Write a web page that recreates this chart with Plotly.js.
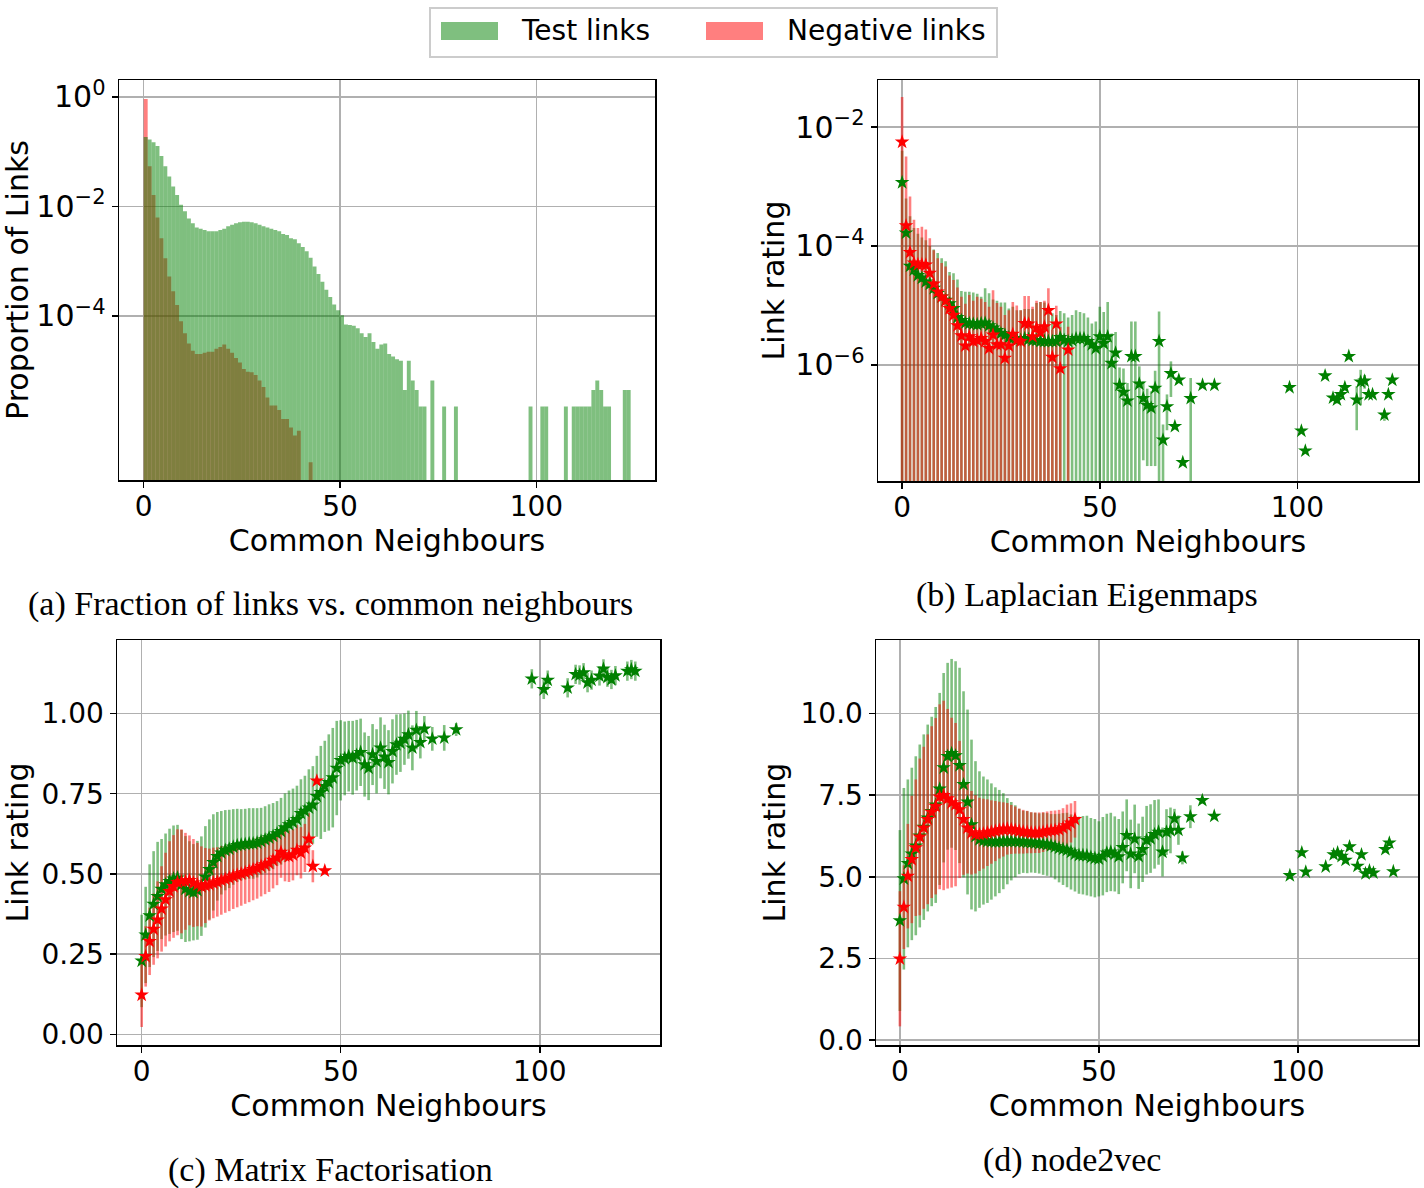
<!DOCTYPE html>
<html>
<head>
<meta charset="utf-8">
<script src="https://cdn.plot.ly/plotly-3.0.1.min.js"></script>
<style>
  html, body { margin: 0; padding: 0; background: white; }
  #chart { width: 1424px; height: 1188px; }
</style>
</head>
<body>
<div id="chart"></div>
<script>
// ---- (a) histogram: proportion of links per number of common neighbours ----
const testBins = [
  0, 1, 2, 3, 4, 5, 6, 7, 8, 9, 10, 11, 12, 13, 14, 15, 16, 17, 18, 19,
  20, 21, 22, 23, 24, 25, 26, 27, 28, 29, 30, 31, 32, 33, 34, 35, 36, 37, 38, 39,
  40, 41, 42, 43, 44, 45, 46, 47, 48, 49, 50, 51, 52, 53, 54, 55, 56, 57, 58, 59,
  60, 61, 62, 63, 64, 65, 66, 67, 68, 69, 70, 71,
  73, 76, 79, 98, 101, 102, 107, 109, 110, 111, 112, 113, 114, 115, 116, 117, 118, 122, 123
];
const testProp = [
  0.185, 0.166, 0.148, 0.126, 0.083, 0.054, 0.035, 0.023, 0.016, 0.0107,
  0.0081, 0.0060, 0.0049, 0.0041, 0.0039, 0.0037, 0.0035, 0.0035, 0.0035, 0.0037,
  0.0039, 0.0043, 0.0046, 0.0049, 0.0051, 0.0052, 0.0052, 0.0051, 0.0049, 0.0046,
  0.0043, 0.0041, 0.0039, 0.0037, 0.0035, 0.0031, 0.0030, 0.0026, 0.0025, 0.0021,
  0.0018, 0.0015, 0.00115, 0.00079, 0.00058, 0.00042, 0.00030, 0.00022, 0.00016, 0.000126,
  0.000102, 6.9e-5, 6.8e-5, 6.6e-5, 5.9e-5, 4.8e-5, 4.1e-5, 4.8e-5, 3.3e-5, 2.5e-5,
  3.0e-5, 3.1e-5, 2.0e-5, 1.8e-5, 1.6e-5, 1.5e-5, 4.4e-6, 1.5e-5, 6.6e-6, 4.4e-6,
  2.2e-6, 2.2e-6,
  6.6e-6, 2.2e-6, 2.2e-6, 2.2e-6, 2.2e-6, 2.2e-6, 2.2e-6, 2.2e-6, 2.2e-6, 2.2e-6,
  2.2e-6, 2.2e-6, 4.4e-6, 6.6e-6, 4.4e-6, 2.2e-6, 2.2e-6, 4.4e-6, 4.4e-6
];
const negBins = [
  0, 1, 2, 3, 4, 5, 6, 7, 8, 9, 10, 11, 12, 13, 14, 15, 16, 17, 18, 19,
  20, 21, 22, 23, 24, 25, 26, 27, 28, 29, 30, 31, 32, 33, 34, 35, 36, 37, 38, 39, 42
];
const negProp = [
  0.91, 0.054, 0.016, 0.0062, 0.0026, 0.00112, 0.00052, 0.00028, 0.000158, 7.9e-5,
  4.8e-5, 3.1e-5, 2.3e-5, 2.0e-5, 2.0e-5, 2.1e-5, 2.2e-5, 2.2e-5, 2.5e-5, 2.7e-5,
  3.0e-5, 2.5e-5, 2.1e-5, 1.7e-5, 1.4e-5, 1.07e-5, 9.5e-6, 9.3e-6, 8.3e-6, 6.6e-6,
  5.0e-6, 3.2e-6, 2.3e-6, 2.3e-6, 1.9e-6, 1.3e-6, 1.3e-6, 9.1e-7, 6.5e-7, 7.9e-7, 2.1e-7
];

// ---- common neighbour counts for the rating panels ----
const testX = [
  0, 1, 2, 3, 4, 5, 6, 7, 8, 9, 10, 11, 12, 13, 14, 15, 16, 17, 18, 19,
  20, 21, 22, 23, 24, 25, 26, 27, 28, 29, 30, 31, 32, 33, 34, 35, 36, 37, 38, 39,
  40, 41, 42, 43, 44, 45, 46, 47, 48, 49, 50, 51, 52, 53, 54, 55, 56, 57, 58, 59,
  60, 61, 62, 63, 64, 65, 66, 67, 68, 69, 70, 71,
  73, 76, 79, 98, 101, 102, 107, 109, 110, 111, 112, 113, 115, 116, 117, 118, 119, 122, 123, 124
];
const negXB = [
  0, 1, 2, 3, 4, 5, 6, 7, 8, 9, 10, 11, 12, 13, 14, 15, 16, 17, 18, 19,
  20, 21, 22, 23, 24, 25, 26, 27, 28, 29, 30, 31, 32, 33, 34, 35, 36, 37, 38, 39, 40, 42
];
const negXC = [
  0, 1, 2, 3, 4, 5, 6, 7, 8, 9, 10, 11, 12, 13, 14, 15, 16, 17, 18, 19,
  20, 21, 22, 23, 24, 25, 26, 27, 28, 29, 30, 31, 32, 33, 34, 35, 36, 37, 38, 39,
  40, 41, 42, 43, 44, 46
];
const negXD = [
  0, 1, 2, 3, 4, 5, 6, 7, 8, 9, 10, 11, 12, 13, 14, 15, 16, 17, 18, 19,
  20, 21, 22, 23, 24, 25, 26, 27, 28, 29, 30, 31, 32, 33, 34, 35, 36, 37, 38, 39,
  40, 41, 42, 43, 44
];

// ---- (b) Laplacian Eigenmaps ----
const testMeanB = [
  1.17e-3, 1.66e-4, 4.6e-5, 4.0e-5, 3.2e-5, 2.9e-5, 2.5e-5, 2.3e-5, 1.95e-5, 1.6e-5,
  1.4e-5, 1.23e-5, 1.07e-5, 8.9e-6, 6.3e-6, 5.6e-6, 5.1e-6, 5.0e-6, 4.9e-6, 4.8e-6,
  5.0e-6, 5.1e-6, 4.6e-6, 4.2e-6, 3.8e-6, 3.4e-6, 3.2e-6, 2.9e-6, 2.8e-6, 2.7e-6,
  2.6e-6, 2.8e-6, 2.7e-6, 2.6e-6, 2.6e-6, 2.5e-6, 2.5e-6, 2.5e-6, 2.5e-6, 2.5e-6,
  2.9e-6, 2.6e-6, 2.5e-6, 2.6e-6, 2.8e-6, 2.8e-6, 2.8e-6, 2.5e-6, 2.2e-6, 1.9e-6,
  3.0e-6, 2.3e-6, 3.0e-6, 1.07e-6, 1.6e-6, 4.6e-7, 3.5e-7, 2.5e-7, 1.4e-6, 1.4e-6,
  4.8e-7, 2.75e-7, 2.1e-7, 1.9e-7, 4.1e-7, 2.5e-6, 5.5e-8, 2.0e-7, 7.2e-7, 9.3e-8,
  5.6e-7, 2.3e-8,
  2.75e-7, 4.6e-7, 4.6e-7, 4.2e-7, 7.8e-8, 3.6e-8, 6.6e-7, 2.8e-7, 2.6e-7, 3.2e-7,
  4.2e-7, 1.4e-6, 2.6e-7, 5.2e-7, 5.4e-7, 3.2e-7, 3.2e-7, 1.45e-7, 3.2e-7, 5.6e-7
];
const testStdB = [
  2.8e-3, 4.6e-4, 2.7e-4, 1.6e-4, 1.28e-4, 1.1e-4, 1.0e-4, 7.7e-5, 6.8e-5, 6.0e-5,
  4.8e-5, 4.3e-5, 2.6e-5, 2.6e-5, 2.1e-5, 1.2e-5, 1.2e-5, 1.2e-5, 1.17e-5, 1.1e-5,
  9.0e-6, 1.44e-5, 1.14e-5, 8.4e-6, 8.2e-6, 7.8e-6, 8.0e-6, 6.0e-6, 6.7e-6, 5.6e-6,
  5.7e-6, 5.9e-6, 6.0e-6, 6.1e-6, 8.4e-6, 9.0e-6, 8.7e-6, 7.0e-6, 4.9e-6, 4.4e-6,
  5.2e-6, 4.8e-6, 3.8e-6, 4.3e-6, 5.5e-6, 5.0e-6, 4.6e-6, 3.8e-6, 2.8e-6, 3.5e-6,
  6.5e-6, 5.5e-6, 8.5e-6, 2.3e-6, 2.0e-6, 4.5e-7, 5.2e-7, 2.5e-7, 4.0e-6, 4.0e-6,
  4.7e-7, 2.5e-7, 1.9e-7, 1.7e-7, 3.9e-7, 5.4e-6, 4.5e-8, 1.2e-7, 4.3e-7, 1.0e-8,
  3.0e-8, 0,
  3.3e-7, 0, 0, 0, 0, 0, 0, 0, 0, 0,
  0, 0, 1.8e-7, 3.1e-7, 1.4e-7, 0, 0, 3.0e-8, 0, 0
];
const negMeanB = [
  5.6e-3, 2.2e-4, 7.8e-5, 5.2e-5, 4.9e-5, 4.9e-5, 4.8e-5, 3.5e-5, 2.3e-5, 1.7e-5,
  1.4e-5, 1.2e-5, 8.9e-6, 6.9e-6, 4.6e-6, 3.1e-6, 2.1e-6, 3.0e-6, 2.5e-6, 2.6e-6,
  2.8e-6, 2.5e-6, 1.9e-6, 3.2e-6, 2.2e-6, 2.2e-6, 1.3e-6, 2.1e-6, 3.3e-6, 2.6e-6,
  2.5e-6, 5.0e-6, 4.9e-6, 3.0e-6, 4.2e-6, 3.5e-6, 4.4e-6, 8.3e-6, 1.35e-6, 4.9e-6,
  8.7e-7, 1.8e-6
];
const negStdB = [
  2.64e-2, 2.98e-3, 6.0e-4, 2.23e-4, 1.51e-4, 1.61e-4, 1.42e-4, 1.0e-4, 6.2e-5, 4.5e-5,
  3.8e-5, 3.3e-5, 2.3e-5, 2.0e-5, 1.54e-5, 1.09e-5, 8.6e-6, 1.2e-5, 9.5e-6, 1.14e-5,
  1.02e-5, 9.0e-6, 7.6e-6, 1.48e-5, 8.8e-6, 7.3e-6, 5.6e-6, 6.2e-6, 8.2e-6, 7.4e-6,
  5.8e-6, 9.5e-6, 9.6e-6, 6.5e-6, 7.8e-6, 8.0e-6, 7.6e-6, 1.12e-5, 2.55e-6, 5.0e-6,
  3.5e-6, 2.6e-6
];

// ---- (c) Matrix Factorisation ----
const testMeanC = [
  0.229, 0.310, 0.370, 0.406, 0.430, 0.453, 0.467, 0.477, 0.485, 0.488,
  0.467, 0.453, 0.446, 0.443, 0.449, 0.462, 0.491, 0.514, 0.536, 0.555,
  0.566, 0.574, 0.578, 0.584, 0.589, 0.591, 0.593, 0.595, 0.595, 0.597,
  0.602, 0.607, 0.613, 0.618, 0.626, 0.633, 0.644, 0.654, 0.661, 0.670,
  0.689, 0.696, 0.706, 0.715, 0.742, 0.754, 0.773, 0.785, 0.800, 0.830,
  0.854, 0.860, 0.867, 0.862, 0.870, 0.879, 0.841, 0.830, 0.872, 0.851,
  0.893, 0.865, 0.848, 0.882, 0.903, 0.908, 0.920, 0.934, 0.893, 0.948,
  0.910, 0.952,
  0.921, 0.924, 0.950, 1.108, 1.075, 1.104, 1.080, 1.122, 1.120, 1.127,
  1.096, 1.104, 1.117, 1.139, 1.113, 1.106, 1.118, 1.132, 1.137, 1.132
];
const testStdC = [
  0.144, 0.15, 0.16, 0.165, 0.17, 0.156, 0.159, 0.164, 0.166, 0.165,
  0.17, 0.165, 0.156, 0.15, 0.154, 0.155, 0.158, 0.156, 0.15, 0.138,
  0.13, 0.125, 0.122, 0.118, 0.114, 0.111, 0.11, 0.11, 0.11, 0.108,
  0.104, 0.104, 0.104, 0.103, 0.101, 0.104, 0.107, 0.106, 0.105, 0.105,
  0.106, 0.11, 0.12, 0.121, 0.126, 0.145, 0.142, 0.15, 0.155, 0.147,
  0.125, 0.115, 0.11, 0.115, 0.11, 0.105, 0.1, 0.1, 0.095, 0.1,
  0.095, 0.1, 0.1, 0.1, 0.094, 0.09, 0.08, 0.075, 0.07, 0.06,
  0.05, 0.04,
  0.037, 0.04, 0.02, 0.03, 0.03, 0.03, 0.03, 0.03, 0.03, 0.03,
  0.03, 0.03, 0.03, 0.03, 0.03, 0.03, 0.03, 0.03, 0.03, 0.03
];
const negMeanC = [
  0.123, 0.243, 0.290, 0.328, 0.357, 0.391, 0.420, 0.446, 0.461, 0.474,
  0.477, 0.477, 0.480, 0.472, 0.467, 0.461, 0.464, 0.467, 0.472, 0.475,
  0.480, 0.484, 0.488, 0.493, 0.497, 0.501, 0.505, 0.509, 0.514, 0.518,
  0.524, 0.529, 0.534, 0.543, 0.550, 0.568, 0.557, 0.555, 0.560, 0.574,
  0.566, 0.581, 0.609, 0.524, 0.790, 0.510
];
const negStdC = [
  0.10, 0.094, 0.105, 0.111, 0.12, 0.133, 0.146, 0.156, 0.16, 0.165,
  0.162, 0.151, 0.14, 0.137, 0.13, 0.125, 0.117, 0.112, 0.11, 0.108,
  0.107, 0.105, 0.104, 0.102, 0.101, 0.1, 0.098, 0.097, 0.096, 0.095,
  0.094, 0.092, 0.09, 0.088, 0.085, 0.08, 0.08, 0.08, 0.08, 0.078,
  0.08, 0.075, 0.08, 0.05, 0, 0
];

// ---- (d) node2vec ----
const testMeanD = [
  3.66, 4.94, 5.41, 5.70, 5.95, 6.25, 6.52, 6.80, 7.00, 7.20,
  7.69, 8.34, 8.69, 8.78, 8.71, 8.41, 7.83, 7.29, 6.60, 6.24,
  6.14, 6.11, 6.09, 6.08, 6.07, 6.08, 6.09, 6.09, 6.09, 6.09,
  6.08, 6.07, 6.06, 6.05, 6.04, 6.02, 6.01, 5.99, 5.96, 5.92,
  5.88, 5.85, 5.82, 5.76, 5.70, 5.66, 5.66, 5.65, 5.60, 5.57,
  5.55, 5.63, 5.73, 5.76, 5.70, 5.62, 5.90, 6.27, 5.70, 6.16,
  5.63, 5.84, 6.12, 6.17, 6.30, 6.37, 5.76, 6.37, 6.42, 6.78,
  6.43, 5.58,
  6.84, 7.34, 6.86, 5.04, 5.74, 5.15, 5.31, 5.68, 5.74, 5.63,
  5.51, 5.92, 5.33, 5.68, 5.10, 5.19, 5.12, 5.84, 6.04, 5.16
];
const testStdD = [
  2.77, 2.78, 2.57, 2.64, 2.74, 2.8, 2.84, 2.86, 2.9, 3.0,
  2.94, 2.9, 2.86, 2.89, 2.89, 2.99, 2.85, 2.83, 2.6, 2.3,
  2.09, 1.96, 1.89, 1.78, 1.67, 1.58, 1.47, 1.32, 1.2, 1.1,
  1.0, 0.95, 0.95, 0.92, 0.92, 0.92, 0.95, 0.96, 0.96, 1.0,
  1.05, 1.1, 1.14, 1.15, 1.15, 1.18, 1.2, 1.22, 1.2, 1.2,
  1.15, 1.2, 1.2, 1.2, 1.15, 1.15, 1.1, 1.1, 1.05, 1.05,
  1.0, 1.0, 1.05, 1.05, 1.05, 1.0, 0.75, 0.7, 0.7, 0.3,
  0.45, 0.2,
  0.35, 0.1, 0.1, 0.1, 0.1, 0.1, 0.1, 0.1, 0.1, 0.1,
  0.1, 0.1, 0.1, 0.1, 0.1, 0.1, 0.1, 0.1, 0.1, 0.1
];
const negMeanD = [
  2.49, 4.07, 5.02, 5.53, 5.89, 6.22, 6.50, 6.76, 6.98, 7.16,
  7.45, 7.49, 7.39, 7.27, 7.21, 7.06, 6.76, 6.50, 6.35, 6.30,
  6.30, 6.32, 6.35, 6.37, 6.40, 6.43, 6.45, 6.47, 6.45, 6.43,
  6.40, 6.38, 6.37, 6.35, 6.35, 6.35, 6.37, 6.40, 6.42, 6.43,
  6.45, 6.50, 6.57, 6.65, 6.76
];
const negStdD = [
  2.07, 1.28, 1.6, 1.95, 2.09, 2.4, 2.48, 2.6, 2.63, 2.7,
  2.83, 2.9, 2.75, 2.6, 2.5, 2.1, 1.7, 1.4, 1.28, 1.2,
  1.12, 1.07, 1.02, 0.97, 0.92, 0.87, 0.83, 0.79, 0.75, 0.72,
  0.69, 0.67, 0.65, 0.63, 0.62, 0.62, 0.61, 0.6, 0.6, 0.6,
  0.6, 0.6, 0.64, 0.6, 0.56
];

const GREEN = '#008000', RED = '#ff0000';
const GREEN_A = 'rgba(0,128,0,0.5)', RED_A = 'rgba(255,0,0,0.5)';
const FONT = 'DejaVu Sans';

// error bars only (drawn under every marker, as matplotlib does)
function bars(x, y, std, barColor, ax) {
  return {
    type: 'scatter', mode: 'markers', x: x, y: y,
    xaxis: 'x' + ax, yaxis: 'y' + ax, showlegend: false, hoverinfo: 'skip',
    marker: { size: 1, color: 'rgba(0,0,0,0)' },
    error_y: { type: 'data', array: std, visible: true, color: barColor, thickness: 2.6, width: 0 }
  };
}
// star markers
function stars(x, y, color, ax) {
  return {
    type: 'scatter', mode: 'markers', x: x, y: y,
    xaxis: 'x' + ax, yaxis: 'y' + ax, showlegend: false,
    marker: { symbol: 'star', size: 11, color: color, line: { width: 0 } }
  };
}

const data = [
  { type: 'bar', x: negBins, y: negProp, width: 1, offset: 0, marker: { color: RED_A, line: { width: 0 } },
    name: 'Negative links', showlegend: false, xaxis: 'x', yaxis: 'y' },
  { type: 'bar', x: testBins, y: testProp, width: 1, offset: 0, marker: { color: GREEN_A, line: { width: 0 } },
    name: 'Test links', showlegend: false, xaxis: 'x', yaxis: 'y' },
  bars(testX, testMeanB, testStdB, GREEN_A, 2),
  bars(negXB, negMeanB, negStdB, RED_A, 2),
  stars(testX, testMeanB, GREEN, 2),
  stars(negXB, negMeanB, RED, 2),
  bars(testX, testMeanC, testStdC, GREEN_A, 3),
  bars(negXC, negMeanC, negStdC, RED_A, 3),
  stars(testX, testMeanC, GREEN, 3),
  stars(negXC, negMeanC, RED, 3),
  bars(testX, testMeanD, testStdD, GREEN_A, 4),
  bars(negXD, negMeanD, negStdD, RED_A, 4),
  stars(testX, testMeanD, GREEN, 4),
  stars(negXD, negMeanD, RED, 4)
];

const W = 1424, H = 1188;
const base = {
  showgrid: true, gridcolor: '#b0b0b0', gridwidth: 1.5,
  showline: true, linecolor: 'black', linewidth: 1.5, mirror: true,
  ticks: 'outside', ticklen: 6, tickwidth: 1.5, tickcolor: 'black',
  tickfont: { family: FONT, size: 28, color: 'black' },
  zeroline: false, automargin: false
};
function xax(left, right, anchor, range) {
  return Object.assign({}, base, {
    domain: [left / W, right / W], anchor: anchor, range: range,
    tickvals: [0, 50, 100], ticklabelstandoff: -5,
    title: { text: 'Common Neighbours', font: { family: FONT, size: 30, color: 'black' }, standoff: 5 }
  });
}
function yax(top, bottom, anchor, title, standoff, extra) {
  return Object.assign({}, base, {
    domain: [1 - bottom / H, 1 - top / H], anchor: anchor,
    title: { text: title, font: { family: FONT, size: 30, color: 'black' }, standoff: standoff }
  }, extra);
}

const sup = s => '10<sup>' + s + '</sup>';
const logTickFont = { family: FONT, size: 30, color: 'black' };
const capFont = { family: 'Liberation Serif', size: 34, color: 'black' };
const layout = {
  width: W, height: H,
  margin: { l: 0, r: 0, t: 0, b: 0 },
  paper_bgcolor: 'white', plot_bgcolor: 'white',
  barmode: 'overlay', showlegend: false,
  font: { family: FONT, color: 'black' },
  xaxis: xax(119, 655, 'y', [-6.3, 130.2]),
  yaxis: yax(80, 480, 'x', 'Proportion of Links', 10, {
    type: 'log', range: [-7.0, 0.306], tickvals: [1, 1e-2, 1e-4],
    ticktext: [sup('0'), sup('−2'), sup('−4')], tickfont: logTickFont
  }),
  xaxis2: xax(878, 1418, 'y2', [-6.1, 130.5]),
  yaxis2: yax(80, 481, 'x2', 'Link rating', 2, {
    type: 'log', range: [-7.95, -1.21], tickvals: [1e-2, 1e-4, 1e-6],
    ticktext: [sup('−2'), sup('−4'), sup('−6')], tickfont: logTickFont
  }),
  xaxis3: xax(117, 660, 'y3', [-6.2, 130.2]),
  yaxis3: yax(640, 1045, 'x3', 'Link rating', 8, {
    range: [-0.033, 1.229], tickvals: [0, 0.25, 0.5, 0.75, 1.0], ticktext: ['0.00', '0.25', '0.50', '0.75', '1.00']
  }),
  xaxis4: xax(876, 1418, 'y4', [-6.0, 130.2]),
  yaxis4: yax(640, 1045, 'x4', 'Link rating', 6, {
    range: [-0.15, 12.25], tickvals: [0, 2.5, 5, 7.5, 10], ticktext: ['0.0', '2.5', '5.0', '7.5', '10.0']
  }),
  shapes: [
    { type: 'rect', xref: 'paper', yref: 'paper', x0: 430 / W, x1: 997 / W, y0: 1 - 57 / H, y1: 1 - 8 / H,
      line: { color: '#cccccc', width: 2 }, fillcolor: 'white' },
    { type: 'rect', xref: 'paper', yref: 'paper', x0: 441 / W, x1: 498 / W, y0: 1 - 40 / H, y1: 1 - 22 / H,
      line: { width: 0 }, fillcolor: GREEN_A },
    { type: 'rect', xref: 'paper', yref: 'paper', x0: 706 / W, x1: 763 / W, y0: 1 - 40 / H, y1: 1 - 22 / H,
      line: { width: 0 }, fillcolor: RED_A }
  ],
  annotations: [
    { text: 'Test links', xref: 'paper', yref: 'paper', x: 519 / W, y: 1 - 31 / H, xanchor: 'left', yanchor: 'middle',
      showarrow: false, font: { family: FONT, size: 28, color: 'black' } },
    { text: 'Negative links', xref: 'paper', yref: 'paper', x: 785 / W, y: 1 - 31 / H, xanchor: 'left', yanchor: 'middle',
      showarrow: false, font: { family: FONT, size: 28, color: 'black' } },
    { text: '(a) Fraction of links vs. common neighbours', xref: 'paper', yref: 'paper', x: 330 / W, y: 1 - 604 / H,
      xanchor: 'center', yanchor: 'middle', showarrow: false, font: capFont },
    { text: '(b) Laplacian Eigenmaps', xref: 'paper', yref: 'paper', x: 1087 / W, y: 1 - 595 / H,
      xanchor: 'center', yanchor: 'middle', showarrow: false, font: capFont },
    { text: '(c) Matrix Factorisation', xref: 'paper', yref: 'paper', x: 330 / W, y: 1 - 1170 / H,
      xanchor: 'center', yanchor: 'middle', showarrow: false, font: capFont },
    { text: '(d) node2vec', xref: 'paper', yref: 'paper', x: 1072 / W, y: 1 - 1160 / H,
      xanchor: 'center', yanchor: 'middle', showarrow: false, font: capFont }
  ]
};

Plotly.newPlot('chart', data, layout, { displayModeBar: false, staticPlot: true });
</script>
</body>
</html>
